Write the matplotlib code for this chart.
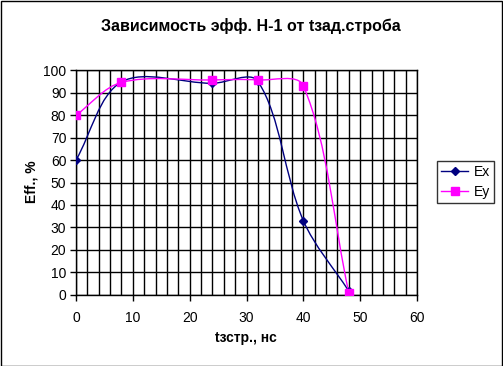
import matplotlib
matplotlib.use("Agg")
import matplotlib.pyplot as plt
from matplotlib.path import Path
from matplotlib.patches import PathPatch, Rectangle
from matplotlib.lines import Line2D
import numpy as np

plt.rcParams['font.family'] = ['Liberation Sans', 'DejaVu Sans']

title = "Зависимость эфф. Н-1 от tзад.строба"
xlabel = "tзстр., нс"
ylabel = "Eff., %"
t_values = [0, 8, 24, 32, 40, 48]
ex_values = [60, 94.8, 94.2, 95.1, 33, 1.6]
ey_values = [80, 94.6, 95.7, 95.7, 93.1, 0.9]
series_names = ["Ex", "Ey"]
series_colors = ["#000080", "#FF00FF"]

W, H = 503, 366
x0, x1, ytop, ybot = 76, 417, 70.3, 294.7
fig = plt.figure(figsize=(W / 100, H / 100), dpi=100)
ax = fig.add_axes([x0 / W, 1 - ybot / H, (x1 - x0) / W, (ybot - ytop) / H])
sx = (x1 - x0) / 60.0
sy = (ybot - ytop) / 100.0


def smooth_path(xs, ys):
    P = np.column_stack([np.asarray(xs, float), np.asarray(ys, float)])
    S = P * np.array([sx, sy])  # screen-space for segment lengths
    n = len(P)
    d = np.hypot(*(np.diff(S, axis=0).T))
    verts = [tuple(P[0])]
    codes = [Path.MOVETO]
    for i in range(n - 1):
        # control after point i
        if i == 0:
            c1 = P[i] + (P[i + 1] - P[i]) / 3.0
        else:
            T = P[i + 1] - P[i - 1]
            c1 = P[i] + T * d[i] / (d[i - 1] + d[i]) / 3.0
        if i + 1 == n - 1:
            c2 = P[i + 1] - (P[i + 1] - P[i]) / 3.0
        else:
            T = P[i + 2] - P[i]
            c2 = P[i + 1] - T * d[i] / (d[i] + d[i + 1]) / 3.0
        verts += [tuple(c1), tuple(c2), tuple(P[i + 1])]
        codes += [Path.CURVE4] * 3
    return Path(verts, codes)


ax.set_xlim(0, 60)
ax.set_ylim(0, 100)
ax.set_xticks(np.arange(0, 61, 10))
ax.set_xticks(np.arange(0, 61, 2), minor=True)
ax.set_yticks(np.arange(0, 101, 10))
ax.grid(True, which='both', axis='x', color='black', linewidth=1)
ax.grid(True, which='major', axis='y', color='black', linewidth=1)
ax.set_axisbelow(True)
for s in ax.spines.values():
    s.set_color('black')
    s.set_linewidth(1)
ax.tick_params(axis='both', which='major', length=4, width=1, direction='out',
               labelsize=10, colors='black', pad=3)
ax.tick_params(axis='x', which='major', pad=8)
ax.tick_params(axis='x', which='minor', length=0)

markers = ['D', 's']
msizes = [4, 6]
handles = []
for yv, name, col, mk, ms in zip([ex_values, ey_values], series_names, series_colors, markers, msizes):
    ax.add_patch(PathPatch(smooth_path(t_values, yv), facecolor='none', edgecolor=col,
                           linewidth=1, zorder=3))
    ax.plot(t_values, yv, linestyle='none', marker=mk, markersize=ms, color=col, zorder=4)
    handles.append(Line2D([], [], color=col, marker=mk, markersize=ms, linewidth=1))

fig.text(251 / W, 1 - 26 / H, title, ha='center', va='center', fontsize=11.5, fontweight='bold')
fig.text(246 / W, 1 - 338 / H, xlabel, ha='center', va='center', fontsize=10, fontweight='bold')
fig.text(32 / W, 1 - 182 / H, ylabel, ha='center', va='center', fontsize=10,
         fontweight='bold', rotation=90)

leg = fig.legend(handles, series_names, loc='center', bbox_to_anchor=(465.5 / W, 1 - 182 / H),
                 frameon=True, fancybox=False, edgecolor='black', fontsize=10,
                 handlelength=2.0, handletextpad=0.4, borderpad=0.3, labelspacing=0.4,
                 borderaxespad=0)
leg.get_frame().set_linewidth(1)

fig.patches.append(Rectangle((0.5 / W, 0.5 / H), (W - 1.5) / W, (H - 1.5) / H,
                             transform=fig.transFigure, fill=False, edgecolor='black',
                             linewidth=1))

fig.savefig("out.png", dpi=100)
